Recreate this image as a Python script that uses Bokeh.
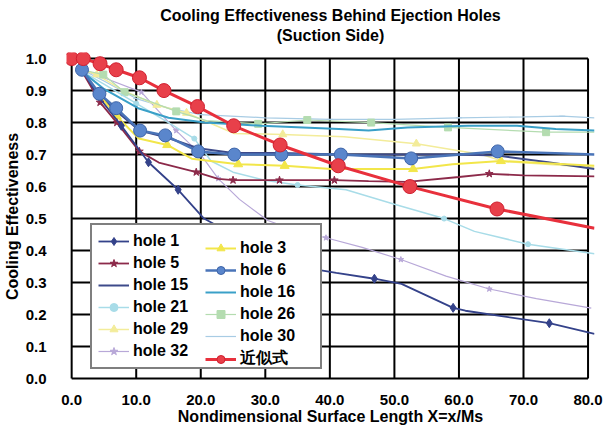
from bokeh.plotting import figure
from bokeh.models import Range1d, FixedTicker, PrintfTickFormatter, Legend, LegendItem, LinearAxis
from bokeh.embed import file_html
from bokeh.resources import INLINE

FONT = "Liberation Sans"

# axis ticks
X_TICKS = [0, 10, 20, 30, 40, 50, 60, 70, 80]
Y_TICKS = [0.0, 0.1, 0.2, 0.3, 0.4, 0.5, 0.6, 0.7, 0.8, 0.9, 1.0]

# cooling effectiveness behind each ejection hole (x = X/Ms, y = effectiveness)
H1_X = [1.6, 4.2, 7.7, 11.9, 16.5, 20.5, 25, 30, 35.6, 41, 46.9, 51.1, 59.1, 61.0, 74.0, 81.0]
H1_Y = [0.965, 0.88, 0.79, 0.676, 0.59, 0.50, 0.45, 0.40, 0.348, 0.33, 0.312, 0.296, 0.221, 0.212, 0.173, 0.14]
H1_M = [2, 3, 4, 10, 12, 14]

H3_X = [1.6, 4.5, 7.0, 10.4, 14.8, 18.6, 25.8, 33.0, 40.2, 46, 52.9, 59, 66.5, 81.0]
H3_Y = [0.96, 0.88, 0.82, 0.75, 0.73, 0.687, 0.67, 0.665, 0.655, 0.655, 0.655, 0.67, 0.68, 0.665]
H3_M = [2, 4, 6, 7, 10, 12]

H5_X = [1.6, 4.4, 7.0, 10.5, 13.5, 19.3, 22.7, 25.0, 32.2, 40.7, 46, 52, 60, 64.7, 70, 81.0]
H5_Y = [0.96, 0.863, 0.80, 0.71, 0.675, 0.645, 0.624, 0.62, 0.62, 0.62, 0.617, 0.615, 0.63, 0.64, 0.635, 0.632]
H5_M = [1, 2, 3, 5, 7, 8, 9, 13]

H6_X = [1.6, 4.3, 6.9, 10.6, 14.5, 19.6, 25.2, 32.5, 41.7, 52.6, 66.0, 81.0]
H6_Y = [0.965, 0.89, 0.845, 0.775, 0.76, 0.71, 0.70, 0.70, 0.70, 0.688, 0.71, 0.70]
H6_M = [0, 1, 2, 3, 4, 5, 6, 7, 8, 9, 10]

H15_X = [1.6, 4.2, 7.0, 10.5, 14.5, 19.6, 25, 32.5, 41.7, 50, 60, 66, 73.8, 81.0]
H15_Y = [0.965, 0.885, 0.835, 0.775, 0.755, 0.72, 0.705, 0.705, 0.70, 0.70, 0.70, 0.697, 0.676, 0.655]

H16_X = [1.6, 5, 10.3, 15, 20.6, 29.4, 41.4, 46, 52, 61.4, 69, 75, 81.0]
H16_Y = [0.96, 0.905, 0.845, 0.815, 0.80, 0.79, 0.78, 0.775, 0.785, 0.79, 0.79, 0.78, 0.775]

H21_X = [1.6, 5, 10, 15, 19, 21.6, 25, 29.9, 35, 42.5, 50, 57.7, 62.4, 70.7, 81.0]
H21_Y = [0.96, 0.92, 0.86, 0.80, 0.75, 0.68, 0.645, 0.62, 0.605, 0.59, 0.545, 0.5, 0.46, 0.42, 0.39]
H21_M = [2, 4, 8, 11, 13]

H26_X = [1.6, 4.9, 8.2, 11, 16.2, 20.9, 28.9, 36.5, 46.4, 58.3, 73.5, 81.0]
H26_Y = [0.965, 0.95, 0.895, 0.875, 0.835, 0.806, 0.796, 0.808, 0.80, 0.785, 0.77, 0.77]
H26_M = [1, 2, 4, 6, 7, 8, 9, 10]

H29_X = [1.6, 3.9, 8, 13.2, 17.8, 25.2, 32.7, 42.2, 53.4, 63.5, 67, 81.0]
H29_Y = [0.965, 0.95, 0.90, 0.855, 0.83, 0.766, 0.763, 0.756, 0.734, 0.70, 0.678, 0.66]
H29_M = [1, 3, 4, 6, 8]

H30_X = [1.6, 5, 10, 15, 20, 30, 40, 50, 60, 70, 76, 81.0]
H30_Y = [0.965, 0.93, 0.875, 0.845, 0.825, 0.815, 0.81, 0.81, 0.815, 0.818, 0.82, 0.815]
H30_M = [2, 4, 6, 8, 10]

H32_X = [1.6, 5, 10.8, 16.2, 20, 22.7, 26, 30.4, 35, 39.4, 45, 51, 58, 64.7, 72, 80.5]
H32_Y = [0.965, 0.94, 0.895, 0.775, 0.70, 0.625, 0.56, 0.494, 0.46, 0.44, 0.41, 0.372, 0.32, 0.28, 0.25, 0.22]
H32_M = [2, 3, 5, 9, 11, 13]

# approximation formula (近似式)
FIT_X = [0, 1.8, 4.4, 6.9, 10.5, 14.3, 19.5, 25.1, 32.3, 41.3, 52.4, 65.9, 81.0]
FIT_Y = [1.0, 1.0, 0.984, 0.965, 0.94, 0.90, 0.85, 0.79, 0.73, 0.665, 0.60, 0.53, 0.47]
FIT_M = [0, 1, 2, 3, 4, 5, 6, 7, 8, 9, 10, 11]

p = figure(width=603, height=427,
           x_range=Range1d(-0.8, 81.0), y_range=Range1d(-0.006, 1.019),
           output_backend="svg", toolbar_location=None,
           min_border_left=65, min_border_right=9, min_border_top=52, min_border_bottom=47,
           title="Cooling Effectiveness Behind Ejection Holes")
p.background_fill_color = "white"
p.border_fill_color = "white"
p.outline_line_color = None
p.grid.visible = False

p.title.align = "center"
p.title.text_font = FONT
p.title.text_font_size = "16px"
p.title.text_font_style = "bold"
p.title.text_color = "black"
p.title.standoff = 0

# bottom and left axes created by figure()
xa, ya = p.below[0], p.left[0]

# second heading line: a bare axis above the frame that carries only its label
sub = LinearAxis(ticker=FixedTicker(ticks=[]), axis_label="(Suction Side)",
                 axis_line_color=None, major_tick_line_color=None, minor_tick_line_color=None,
                 axis_label_standoff=9, axis_label_text_font=FONT,
                 axis_label_text_font_size="16px", axis_label_text_font_style="bold",
                 axis_label_text_color="black")
p.add_layout(sub, "above")

# black grid, bounded by the first and last tick on each axis
p.segment(x0=X_TICKS, y0=[Y_TICKS[0]] * len(X_TICKS), x1=X_TICKS, y1=[Y_TICKS[-1]] * len(X_TICKS),
          line_color="black", line_width=2)
p.segment(x0=[X_TICKS[0]] * len(Y_TICKS), y0=Y_TICKS, x1=[X_TICKS[-1]] * len(Y_TICKS), y1=Y_TICKS,
          line_color="black", line_width=2)

for ax in (xa, ya):
    ax.axis_line_color = None
    ax.major_tick_line_color = None
    ax.minor_tick_line_color = None
    ax.major_label_text_font = FONT
    ax.major_label_text_font_style = "bold"
    ax.major_label_text_color = "black"
    ax.major_label_text_font_size = "15px"
    ax.axis_label_text_font = FONT
    ax.axis_label_text_font_style = "bold"
    ax.axis_label_text_font_size = "16px"
    ax.axis_label_text_color = "black"
    ax.formatter = PrintfTickFormatter(format="%.1f")

xa.ticker = FixedTicker(ticks=X_TICKS)
ya.ticker = FixedTicker(ticks=Y_TICKS)
xa.major_label_standoff = 8
ya.major_label_standoff = 14
xa.axis_label = "Nondimensional Surface Length X=x/Ms"
ya.axis_label = "Cooling Effectiveness"
xa.axis_label_standoff = 0
ya.axis_label_standoff = 2


def series(xs, ys, marks, color, lw, marker=None, size=7, fill=None, line=None, dash="solid"):
    rs = [p.line(xs, ys, line_color=color, line_width=lw, line_dash=dash)]
    if marker is not None:
        mx = [xs[i] for i in marks]
        my = [ys[i] for i in marks]
        rs.append(p.scatter(mx, my, marker=marker, size=size,
                            fill_color=fill or color, line_color=line or color, line_width=1))
    return rs


r32 = series(H32_X, H32_Y, H32_M, "#b8a8d8", 1.2, "star", 6)
r30 = series(H30_X, H30_Y, H30_M, "#a8cce4", 1.2, "dash", 6)
r29 = series(H29_X, H29_Y, H29_M, "#f3ec9a", 1.5, "triangle", 8)
r26 = series(H26_X, H26_Y, H26_M, "#b4dcb0", 1.2, "square", 7)
r21 = series(H21_X, H21_Y, H21_M, "#a8dce8", 1.5, "circle", 5)
r16 = series(H16_X, H16_Y, None, "#3aa0c8", 2)
r15 = series(H15_X, H15_Y, None, "#3d4a8a", 2)
r3 = series(H3_X, H3_Y, H3_M, "#f2e64a", 2, "triangle", 9)
r5 = series(H5_X, H5_Y, H5_M, "#8c2a4a", 1.8, "star", 8)
r1 = series(H1_X, H1_Y, H1_M, "#34428a", 1.8, "diamond", 9)
r6 = series(H6_X, H6_Y, H6_M, "#4a74b8", 2.5, "circle", 13, fill="#5a86cc", line="#3d64a8")
rfit = series(FIT_X, FIT_Y, FIT_M, "#e8303c", 3, "circle", 14, fill="#e8404a", line="#d02030")


def make_legend(items, x):
    lg = Legend(items=[LegendItem(label=t, renderers=r) for t, r in items],
                location=(x, 11), orientation="vertical",
                label_text_font=FONT, label_text_font_style="bold",
                label_text_font_size="16px", label_text_color="black",
                glyph_width=31, glyph_height=20, label_height=20,
                label_standoff=4, spacing=2, padding=6, margin=0)
    return lg


left = make_legend([("hole 1", r1), ("hole 5", r5), ("hole 15", r15),
                    ("hole 21", r21), ("hole 29", r29), ("hole 32", r32)], 24)
left.label_width = 181
left.border_line_color = "black"
left.border_line_width = 2
left.background_fill_color = "white"
left.background_fill_alpha = 1.0

right = make_legend([("hole 3", r3), ("hole 6", r6), ("hole 16", r16),
                     ("hole 26", r26), ("hole 30", r30), ("近似式", rfit)], 139)
right.border_line_color = None
right.background_fill_alpha = 0.0

p.add_layout(left, "center")
p.add_layout(right, "center")

open("out.html", "w").write(file_html(p, INLINE))
